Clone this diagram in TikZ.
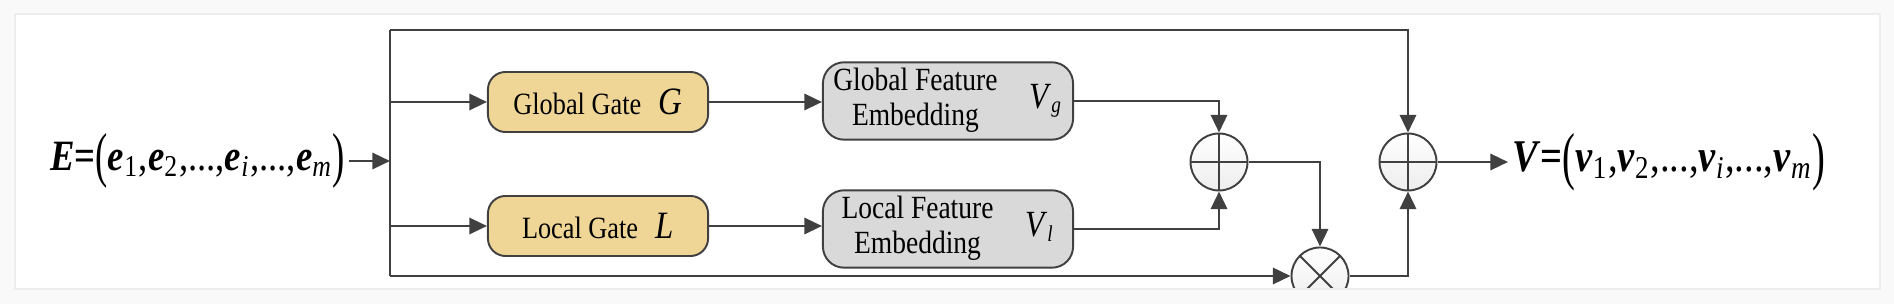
\documentclass[tikz,border=0pt]{standalone}
\usepackage{fontspec}
\setmainfont{Liberation Serif}[FakeStretch=0.85]
\usepackage{graphicx}
\usetikzlibrary{arrows.meta}

\definecolor{line_gray}{RGB}{64,64,64}
\definecolor{gate_tan}{RGB}{240,214,150}
\definecolor{feat_gray}{RGB}{217,217,217}
\newcommand{\tallparen}[1]{\raisebox{-0.12em}{\scalebox{1}[1.4]{#1}}}
\newcommand{\bvec}[2]{\textbf{\textit{#1}}\textsubscript{#2}}

\begin{document}
\begin{tikzpicture}[
    x=0.01cm, y=-0.01cm,
% Block styles
    gate/.style={rectangle, draw=line_gray, fill=gate_tan, line width=0.55pt, minimum width=2.2cm, minimum height=0.6cm, rounded corners=5pt, font=\fontsize{8.8}{10}\selectfont},
    feat/.style={rectangle, draw=line_gray, fill=feat_gray, line width=0.55pt, minimum width=2.5cm, minimum height=0.69cm, rounded corners=6pt, inner sep=1pt, font=\fontsize{9.2}{10}\selectfont},
    sumop/.style={circle, draw=line_gray, line width=0.55pt, minimum size=0.57cm, inner sep=0pt, top color=white, bottom color=gray!14,
        path picture={\draw[line_gray, line width=0.55pt] (path picture bounding box.north) -- (path picture bounding box.south) (path picture bounding box.west) -- (path picture bounding box.east);}},
    mulop/.style={sumop, path picture={\draw[line_gray, line width=0.55pt] (path picture bounding box.north west) -- (path picture bounding box.south east) (path picture bounding box.south west) -- (path picture bounding box.north east);}},
    link/.style={line_gray, line width=0.75pt},
    arr/.style={link, -{Triangle[length=5pt, width=4.6pt]}}
]
\useasboundingbox (0,0) rectangle (1894,304);

% 0. Panel
\fill[gray!5] (0,0) rectangle (1894,304);
\draw[gray!14, line width=0.8pt, fill=white] (15,14) rectangle (1880,289);

\begin{scope}
\clip (16,15) rectangle (1879,288);

% 1. Input sequence and the bus that splits it
\node[anchor=west, inner sep=1pt, font=\fontsize{12.3}{13}\selectfont] (Ein) at (46,161)
    {\textbf{\textit{E}}\textbf{=}\tallparen{(}\bvec{e}{1},\bvec{e}{2},...,\bvec{e}{\textit{i}},...,\bvec{e}{\textit{m}}\tallparen{)}};
\coordinate (split) at (390,161);
\coordinate (bustop) at (390,30);
\coordinate (busbot) at (390,276);
\draw[arr] (Ein.east |- split) -- (split);
\draw[link] (bustop) -- (busbot);

% 2. Gates
\node[gate] (gateG) at (598,102) {Global Gate\hspace{5pt}{\fontsize{11}{10}\selectfont\textit{G}}};
\node[gate] (gateL) at (598,226) {Local Gate\hspace{5pt}{\fontsize{11}{10}\selectfont\textit{L}}};
\draw[arr] (split |- gateG.west) -- (gateG.west);
\draw[arr] (split |- gateL.west) -- (gateL.west);

% 3. Feature embeddings
\node[feat] (featG) at (948,101) {\begin{tabular}{@{}c@{}}Global Feature\\Embedding\end{tabular}\hspace{9pt}{\fontsize{10.5}{10}\selectfont\textit{V}}\textsubscript{\textit{g}}};
\node[feat] (featL) at (948,229) {\begin{tabular}{@{}c@{}}Local Feature\\Embedding\end{tabular}\hspace{9pt}{\fontsize{10.5}{10}\selectfont\textit{V}}\textsubscript{\textit{l}}};
\draw[arr] (gateG.east) -- (gateG.east -| featG.west);
\draw[arr] (gateL.east) -- (gateL.east -| featL.west);

% 4. Fusion: add, multiply with input, add the residual
\node[sumop] (sumGL) at (1219,162) {};
\node[mulop] (mulE) at (1320,276) {};
\node[sumop] (sumOut) at (1408,162) {};
\draw[arr] (featG.east) -| (sumGL.north);
\draw[arr] (featL.east) -| (sumGL.south);
\draw[arr] (sumGL.east) -| (mulE.north);
\draw[arr] (busbot) -- (mulE.west);
\draw[arr] (mulE.east) -| (sumOut.south);
\draw[arr] (bustop) -| (sumOut.north);

% 5. Output sequence
\node[anchor=west, inner sep=1pt, font=\fontsize{12.9}{14}\selectfont] (Vout) at (1508,162)
    {\textbf{\textit{V}}\textbf{=}\tallparen{(}\bvec{v}{1},\bvec{v}{2},...,\bvec{v}{\textit{i}},...,\bvec{v}{\textit{m}}\tallparen{)}};
\draw[arr] (sumOut.east) -- (Vout.west);
\end{scope}

\end{tikzpicture}
\end{document}
